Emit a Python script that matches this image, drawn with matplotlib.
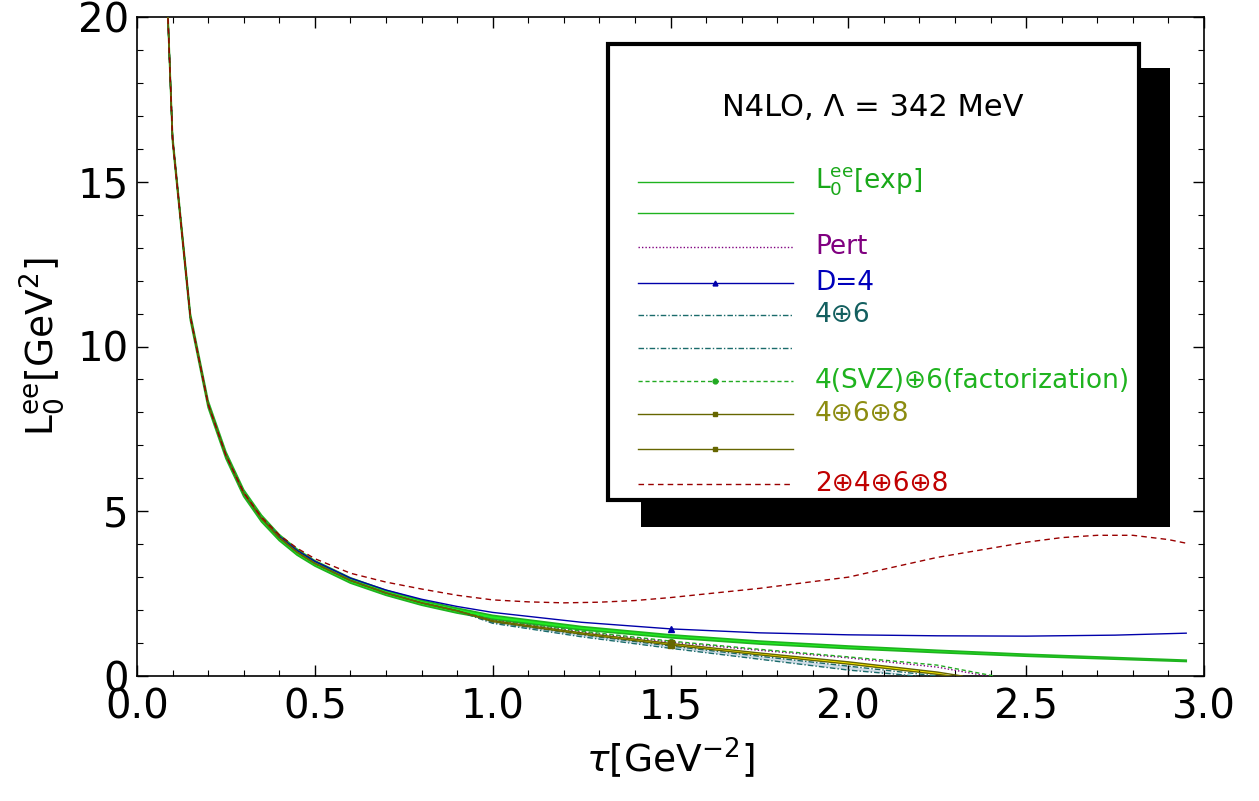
import matplotlib
matplotlib.use("Agg")
import matplotlib.pyplot as plt
from matplotlib.patches import Rectangle
from matplotlib.lines import Line2D
from matplotlib.ticker import MultipleLocator

plt.rcParams['font.family'] = ['DejaVu Sans']
plt.rcParams['mathtext.fontset'] = 'dejavusans'

# common low-tau part (all curves coincide there)
tau_core = [0.05, 0.10, 0.15, 0.20, 0.25, 0.30, 0.35, 0.40, 0.45, 0.50, 0.60, 0.70, 0.80, 0.90]
L_core = [30.5, 16.3, 10.9, 8.25, 6.70, 5.55, 4.78, 4.20, 3.76, 3.42, 2.90, 2.52, 2.22, 1.98]

# experimental band
exp_hi_core = [30.6, 16.4, 11.0, 8.35, 6.80, 5.65, 4.88, 4.29, 3.85, 3.50, 2.98, 2.60, 2.30, 2.06]
exp_lo_core = [30.4, 16.2, 10.8, 8.15, 6.60, 5.45, 4.68, 4.11, 3.67, 3.34, 2.82, 2.45, 2.15, 1.91]
tau_tail = [1.0, 1.25, 1.5, 1.75, 2.0, 2.25, 2.5, 2.75, 2.95]
exp_hi_tail = [1.84, 1.50, 1.25, 1.06, 0.91, 0.78, 0.66, 0.56, 0.48]
exp_lo_tail = [1.72, 1.40, 1.16, 0.97, 0.83, 0.71, 0.60, 0.51, 0.44]

# D=4
blue_tau = [0.40, 0.45, 0.50, 0.60, 0.70, 0.80, 0.90, 1.0, 1.25, 1.5, 1.75, 2.0, 2.25, 2.5, 2.75, 2.95]
blue_val = [4.24, 3.81, 3.48, 2.97, 2.61, 2.33, 2.11, 1.93, 1.63, 1.43, 1.31, 1.25, 1.22, 1.21, 1.24, 1.30]

# 2+4+6+8
red_tau = [0.30, 0.35, 0.40, 0.45, 0.50, 0.60, 0.70, 0.80, 0.90, 1.0, 1.1, 1.2, 1.3, 1.4, 1.5,
           1.75, 2.0, 2.25, 2.5, 2.6, 2.7, 2.8, 2.9, 2.95]
red_val = [5.57, 4.82, 4.28, 3.88, 3.56, 3.12, 2.85, 2.64, 2.45, 2.31, 2.25, 2.22, 2.24, 2.29, 2.38,
           2.66, 3.00, 3.60, 4.06, 4.20, 4.27, 4.27, 4.14, 4.03]

# curves that cross zero
pert_tau = [1.0, 1.25, 1.5, 1.75, 2.0, 2.25, 2.39]
pert_val = [1.70, 1.34, 1.03, 0.78, 0.55, 0.27, 0.0]
svz_tau = [1.0, 1.25, 1.5, 1.75, 2.0, 2.25, 2.41]
svz_val = [1.72, 1.36, 1.06, 0.81, 0.58, 0.33, 0.0]
d468_hi_tau = [1.0, 1.25, 1.5, 1.75, 2.0, 2.25, 2.32]
d468_hi_val = [1.68, 1.31, 0.99, 0.70, 0.43, 0.12, 0.0]
d468_lo_tau = [1.0, 1.25, 1.5, 1.75, 2.0, 2.25, 2.29]
d468_lo_val = [1.65, 1.27, 0.94, 0.64, 0.36, 0.05, 0.0]
d46_hi_tau = [1.0, 1.25, 1.5, 1.75, 2.0, 2.25]
d46_hi_val = [1.64, 1.25, 0.91, 0.60, 0.30, 0.0]
d46_lo_tau = [1.0, 1.25, 1.5, 1.75, 2.0, 2.19]
d46_lo_val = [1.60, 1.19, 0.84, 0.51, 0.18, 0.0]

# the single markers sit at tau = 1.5
tau_mark = 1.5

legend_labels = [r"$\mathregular{L_0^{ee}}$[exp]", "", "Pert", "D=4", "4⊕6", "",
                 "4(SVZ)⊕6(factorization)", "4⊕6⊕8", "", "2⊕4⊕6⊕8"]

c_exp = '#1fb31f'
c_fill = '#22ee22'
c_pert = '#800080'
c_blue = '#0000aa'
c_teal = '#1a6b6b'
c_svz = '#22aa22'
c_olive = '#666600'
c_red = '#990000'


def join(t_a, v_a, t_b, v_b):
    return list(t_a) + list(t_b), list(v_a) + list(v_b)


def core_to(tmax):
    n = len([t for t in tau_core if t < tmax])
    return tau_core[:n], L_core[:n]


def at(ts, vs, t):
    return vs[ts.index(t)]


W, H = 1259, 801
fig = plt.figure(figsize=(W / 100, H / 100), dpi=100)
ax = fig.add_axes([137 / W, 1 - 676 / H, (1204 - 137) / W, (676 - 17) / H])

t_eh, v_eh = join(tau_core, exp_hi_core, tau_tail, exp_hi_tail)
t_el, v_el = join(tau_core, exp_lo_core, tau_tail, exp_lo_tail)

tc, vc = core_to(1.0)
t46h, v46h = join(tc, vc, d46_hi_tau, d46_hi_val)
t46l, v46l = join(tc, vc, d46_lo_tau, d46_lo_val)
t468h, v468h = join(tc, vc, d468_hi_tau, d468_hi_val)
t468l, v468l = join(tc, vc, d468_lo_tau, d468_lo_val)
tp, vp = join(tc, vc, pert_tau, pert_val)
ts, vs = join(tc, vc, svz_tau, svz_val)
tcb, vcb = core_to(0.40)
tb, vb = join(tcb, vcb, blue_tau, blue_val)
tcr, vcr = core_to(0.30)
tr, vr = join(tcr, vcr, red_tau, red_val)

# bands
ax.fill_between(t_eh, v_el, v_eh, color=c_fill, lw=0, zorder=1)
ax.fill_between(t46l, v46l, v46h[:len(t46l)], color='#cfdce6', lw=0, zorder=1)
ax.fill_between(t468l, v468l, v468h[:len(t468l)], color='#ffee00', lw=0, zorder=1)

ax.plot(t_eh, v_eh, color=c_exp, lw=1.2, zorder=3)
ax.plot(t_el, v_el, color=c_exp, lw=1.2, zorder=3)
ax.plot(tp, vp, color=c_pert, lw=1.0, ls=(0, (1, 1.5)), zorder=3)
ax.plot(tb, vb, color=c_blue, lw=1.0, zorder=3)
ax.plot(t46h, v46h, color=c_teal, lw=1.0, ls=(0, (4, 1.5, 1, 1.5)), zorder=3)
ax.plot(t46l, v46l, color=c_teal, lw=1.0, ls=(0, (4, 1.5, 1, 1.5)), zorder=3)
ax.plot(ts, vs, color=c_svz, lw=1.0, ls=(0, (3, 2)), zorder=3)
ax.plot(t468h, v468h, color=c_olive, lw=1.0, zorder=3)
ax.plot(t468l, v468l, color=c_olive, lw=1.0, zorder=3)
ax.plot(tr, vr, color=c_red, lw=1.0, ls=(0, (4, 3)), zorder=3)

ax.plot([tau_mark], [at(blue_tau, blue_val, tau_mark)], marker='^', color=c_blue, ms=4, zorder=4)
ax.plot([tau_mark], [at(svz_tau, svz_val, tau_mark)], marker='o', color=c_svz, ms=3, zorder=4)
ax.plot([tau_mark], [at(d468_hi_tau, d468_hi_val, tau_mark)], marker='s', color=c_olive, ms=4, zorder=4)
ax.plot([tau_mark], [at(d468_lo_tau, d468_lo_val, tau_mark)], marker='s', color=c_olive, ms=4, zorder=4)

ax.set_xlim(0, 3)
ax.set_ylim(0, 20)
ax.xaxis.set_major_locator(MultipleLocator(0.5))
ax.xaxis.set_minor_locator(MultipleLocator(0.1))
ax.yaxis.set_major_locator(MultipleLocator(5))
ax.yaxis.set_minor_locator(MultipleLocator(1))
ax.xaxis.set_major_formatter(plt.FuncFormatter(lambda v, p: f"{v:.1f}"))
ax.tick_params(which='both', direction='in', top=True, right=True, labelsize=29)
ax.tick_params(which='major', length=8, width=1)
ax.tick_params(which='minor', length=4, width=0.8)
ax.tick_params(axis='x', pad=8)
ax.tick_params(axis='y', pad=6)
for s in ax.spines.values():
    s.set_linewidth(1.2)

ax.set_xlabel(r"$\tau$[GeV$^{-2}$]", fontsize=27, labelpad=6)
ax.set_ylabel(r"$\mathregular{L_0^{ee}[GeV^2]}$", fontsize=27, labelpad=8)

# legend box with hard black shadow
fig.add_artist(Rectangle((641 / W, 1 - 527 / H), (1170 - 641) / W, (527 - 68) / H,
                         transform=fig.transFigure, facecolor='black', edgecolor='none', zorder=5))
fig.add_artist(Rectangle((608 / W, 1 - 500 / H), (1139 - 608) / W, (500 - 44) / H,
                         transform=fig.transFigure, facecolor='white', edgecolor='black', lw=3, zorder=6))
fig.text(873 / W, 1 - 108 / H, "N4LO, Λ = 342 MeV", fontsize=22, ha='center', va='center', zorder=7)

rows_y = [182, 213, 247, 283, 315, 348, 381, 414, 449, 484]
row_style = [
    dict(color=c_exp, ls='-'),
    dict(color=c_exp, ls='-'),
    dict(color=c_pert, ls=(0, (1, 1.5))),
    dict(color=c_blue, ls='-', marker='^'),
    dict(color=c_teal, ls=(0, (4, 1.5, 1, 1.5))),
    dict(color=c_teal, ls=(0, (4, 1.5, 1, 1.5))),
    dict(color=c_svz, ls=(0, (3, 2)), marker='o'),
    dict(color=c_olive, ls='-', marker='s'),
    dict(color=c_olive, ls='-', marker='s'),
    dict(color=c_red, ls=(0, (4, 3))),
]
text_colors = ['#19a819', None, '#800080', '#0000bb', '#135f5f', None,
               '#1fb31f', '#8c8c10', None, '#c00000']
x0, x1 = 638 / W, 793 / W
for y, st, lab, tcol in zip(rows_y, row_style, legend_labels, text_colors):
    yy = 1 - y / H
    mk = st.pop('marker', None)
    fig.add_artist(Line2D([x0, x1], [yy, yy], transform=fig.transFigure, lw=1.0, zorder=7, **st))
    if mk:
        fig.add_artist(Line2D([(x0 + x1) / 2], [yy], transform=fig.transFigure, marker=mk,
                              ms=3.5, color=st['color'], ls='none', zorder=8))
    if lab:
        fig.text(815 / W, yy, lab, fontsize=19, color=tcol, ha='left', va='center', zorder=8)

fig.savefig("out.png", dpi=100)
